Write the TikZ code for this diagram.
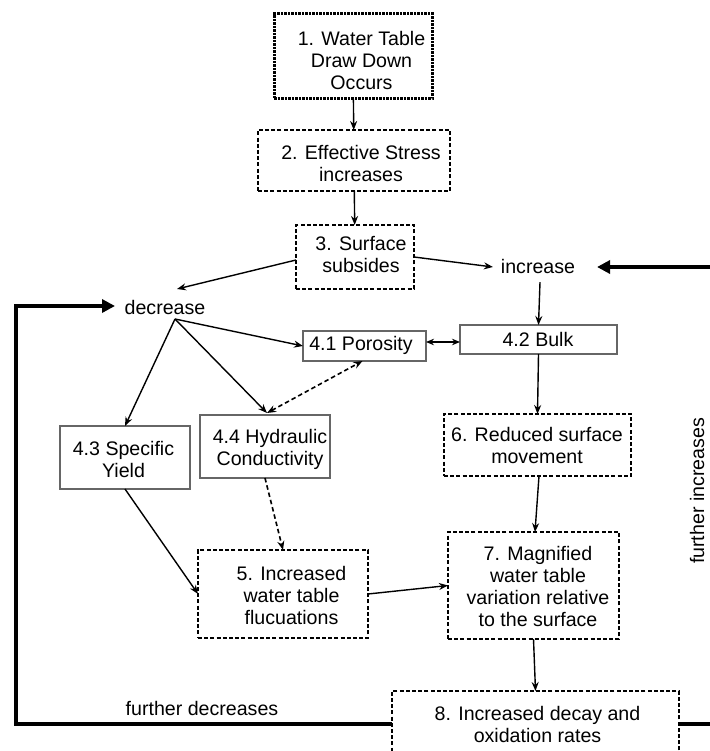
\documentclass[tikz,border=0pt]{standalone}
\usepackage{fontspec}
\setmainfont{Liberation Sans}
\usetikzlibrary{arrows.meta}
\begin{document}
\begin{tikzpicture}[x=1pt,y=-1pt,
  every node/.style={font=\fontsize{19.6}{22}\selectfont, inner sep=0pt, outer sep=0pt},
  txt/.style={align=center},
  dbox/.style={draw, line width=1.3pt, dash pattern=on 4pt off 2.2pt},
  tbox/.style={draw, line width=3pt, dash pattern=on 2.5pt off 1pt},
  sbox/.style={draw=black!60, line width=1.1pt},
  arr/.style={line width=1.4pt, -{Stealth[length=9pt,width=7pt]}},
  arrb/.style={line width=1.4pt, {Stealth[length=8pt,width=6.5pt]}-{Stealth[length=8pt,width=6.5pt]}},
  darr/.style={line width=1.6pt, dash pattern=on 4.5pt off 3pt, {Stealth[length=9pt,width=7pt]}-{Stealth[length=9pt,width=7pt]}},
  dsarr/.style={line width=1.6pt, dash pattern=on 4.5pt off 3pt, -{Stealth[length=9pt,width=7pt]}},
  thk/.style={line width=4pt, line join=miter},
  thkarr/.style={line width=4pt, line join=miter, -{Triangle[length=13pt,width=13pt]}}
]
\useasboundingbox (0,0) rectangle (709,751);

% boxes
\node[tbox, minimum width=158pt, minimum height=85pt] (b1) at (353,56.5) {};
\node[dbox, minimum width=192pt, minimum height=61pt] (b2) at (354,160.5) {};
\node[dbox, minimum width=118pt, minimum height=64pt] (b3) at (355,257) {};
\node[sbox, minimum width=123pt, minimum height=30pt] (b41) at (364.5,346) {};
\node[sbox, minimum width=157pt, minimum height=29pt] (b42) at (538.5,339.5) {};
\node[sbox, minimum width=130pt, minimum height=63pt] (b43) at (125,457.5) {};
\node[sbox, minimum width=130pt, minimum height=63pt] (b44) at (265,446.5) {};
\node[dbox, minimum width=170pt, minimum height=88pt] (b5) at (283,594) {};
\node[dbox, minimum width=187pt, minimum height=62pt] (b6) at (537.5,445) {};
\node[dbox, minimum width=171pt, minimum height=107pt] (b7) at (533.5,585.5) {};
\node[dbox, minimum width=287pt, minimum height=70pt] (b8) at (535.5,726) {};

% texts
\node[txt] (t1) at (361.5,60) {1. Water Table\\Draw Down\\Occurs};
\node[txt] (t2) at (361,163) {2. Effective Stress\\increases};
\node[txt] (t3) at (361,255) {3. Surface\\subsides};
\node[txt] (t41) at (361,345) {4.1 Porosity};
\node[txt] (t42) at (538,339) {4.2 Bulk};
\node[txt] (t43) at (123.5,459) {4.3 Specific\\Yield};
\node[txt] (t44) at (270,449) {4.4 Hydraulic\\Conductivity};
\node[txt] (t5) at (291.5,595) {5. Increased\\water table\\flucuations};
\node[txt] (t6) at (537,445) {6. Reduced surface\\movement};
\node[txt] (t7) at (538,586) {7. Magnified\\water table\\variation relative\\to the surface};
\node[txt] (t8) at (537.5,724) {8. Increased decay and\\oxidation rates};

\node (dec) at (165,307) {decrease};
\node (inc) at (538,266) {increase};
\node[anchor=base] (fd) at (202,715) {further decreases};
\node[anchor=base, rotate=90] (fi) at (704,491) {further increases};

\coordinate (decS) at ([shift={(10,12)}]dec.center);
\coordinate (lc) at (16,306);
\coordinate (rin) at (720,267);
\coordinate (rout) at (720,723.5);

% connectors
\draw[arr] (b1) -- (b2);
\draw[arr] (b2) -- (b3);
\draw[arr] ([shift={(0,3)}]b3.west) -- ([shift={(12,-18)}]dec.center);
\draw[arr] (b3.east) -- ([shift={(-8,1)}]inc.west);
\draw[thkarr] (rin) -- ([shift={(22,1)}]inc.east);
\draw[arr] ([shift={(2,9)}]inc.south) -- (b42.north);
\draw[arrb] ([shift={(0,-4)}]b41.east) -- ([shift={(0,2.5)}]b42.west);
\draw[arr] (decS) -- (b41.west);
\draw[arr] (decS) -- (b43.north);
\draw[arr] (decS) -- ([shift={(2,-2)}]b44.north);
\draw[darr] ([shift={(2,-2)}]b44.north) -- ([shift={(-2,0)}]b41.south);
\draw[arr] (b42.south) -- (b6.north);
\draw[arr] ([shift={(1.5,0)}]b6.south) -- ([shift={(1.5,0)}]b7.north);
\draw[arr] (b7.south) -- (b8.north);
\draw[dsarr] (b44.south) -- (b5.north);
\draw[arr] (b43.south) -- (b5.west);
\draw[arr] (b5.east) -- (b7.west);
\draw[thkarr] ([shift={(0,-2.5)}]b8.west) -| (lc) -- ([shift={(-50,-1)}]dec.center);
\draw[thk] ([shift={(0,-2.5)}]b8.east) -- (rout);
\end{tikzpicture}
\end{document}
